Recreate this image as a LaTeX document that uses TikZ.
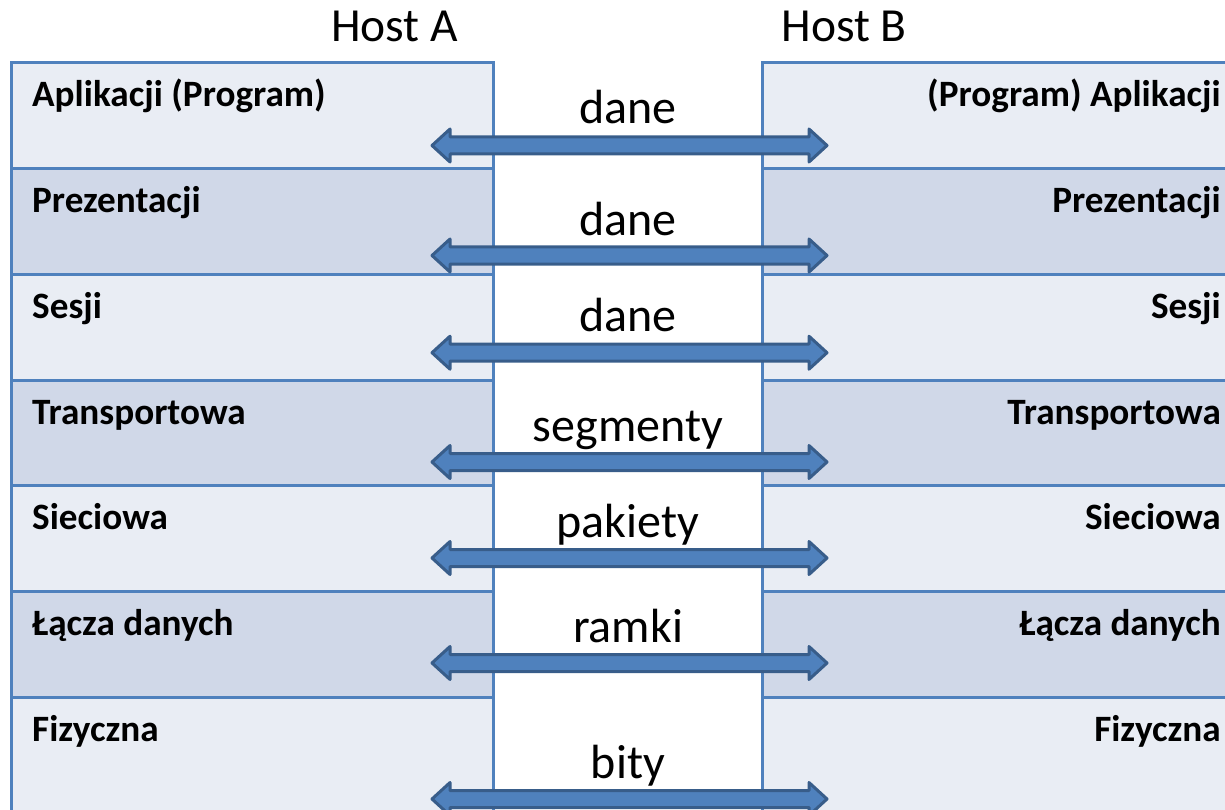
\documentclass[tikz,border=0pt]{standalone}
\usepackage{fontspec}
\setmainfont{Carlito}
\usetikzlibrary{calc}
\definecolor{frame}{HTML}{4F81BD}
\definecolor{rowlight}{HTML}{E9EDF4}
\definecolor{rowdark}{HTML}{D0D8E8}
\definecolor{arrowfill}{HTML}{4F81BD}
\definecolor{arrowedge}{HTML}{385D8A}
\tikzset{
  layerbox/.style={draw=frame, line width=3pt},
  layername/.style={font=\fontsize{37.2}{44}\selectfont\bfseries, inner sep=0pt},
  hostname/.style={font=\fontsize{47.5}{57}\selectfont, inner sep=0pt},
  pduname/.style={font=\fontsize{48}{58}\selectfont, inner sep=0pt},
  pduarrow/.style={fill=arrowfill, draw=arrowedge, line width=3pt, line join=round},
}
\begin{document}
\begin{tikzpicture}[x=1pt,y=-1pt]
\useasboundingbox (0,0) rectangle (1225,810);
\begin{scope}
\clip (0,0) rectangle (1225,810);

% host headings
\node[hostname, anchor=base] (hostA) at (394.5,42) {Host A};
\node[hostname, anchor=base] (hostB) at (844,42) {Host B};

% the seven layers of both hosts (the last one runs past the lower edge)
\foreach \i/\nameA/\nameB/\shade/\h in {
  1/Aplikacji (Program)/(Program) Aplikacji/rowlight/105.67,
  2/Prezentacji/Prezentacji/rowdark/105.67,
  3/Sesji/Sesji/rowlight/105.67,
  4/Transportowa/Transportowa/rowdark/105.67,
  5/Sieciowa/Sieciowa/rowlight/105.67,
  6/Łącza danych/Łącza danych/rowdark/105.67,
  7/Fizyczna/Fizyczna/rowlight/160}{
  \pgfmathsetmacro{\rtop}{63+(\i-1)*105.67}
  \pgfmathsetmacro{\rbot}{\rtop+\h}
  \path[fill=\shade] (11,\rtop) rectangle (493,\rbot);
  \path[fill=\shade] (762,\rtop) rectangle (1240,\rbot);
  \draw[layerbox] (11,\rtop) rectangle (493,\rbot);
  \draw[layerbox] (762,\rtop) rectangle (1240,\rbot);
  \node[layername, anchor=base west] (la\i) at (32,\rtop+44) {\nameA};
  \node[layername, anchor=base east] (lb\i) at (1221,\rtop+44) {\nameB};
}

% data units exchanged between peer layers
\foreach \i/\pdu/\base/\ay in {
  1/dane/124/145.5,
  2/dane/235.7/255.5,
  3/dane/331.7/352.7,
  4/segmenty/441/462,
  5/pakiety/537/558,
  6/ramki/642.7/663,
  7/bity/778/799}{
  \node[pduname, anchor=base] (pdu\i) at (628,\base) {\pdu};
  \coordinate (ea\i) at (432,\ay);
  \coordinate (eb\i) at (827,\ay);
  \draw[pduarrow] (ea\i) -- ++(18,-16.5) -- ++(0,8) -- ($(eb\i)+(-18,-8.5)$)
    -- ++(0,-8) -- (eb\i) -- ++(-18,16.5) -- ++(0,-8) -- ($(ea\i)+(18,8.5)$)
    -- ++(0,8) -- cycle;
}
\end{scope}
\end{tikzpicture}
\end{document}
